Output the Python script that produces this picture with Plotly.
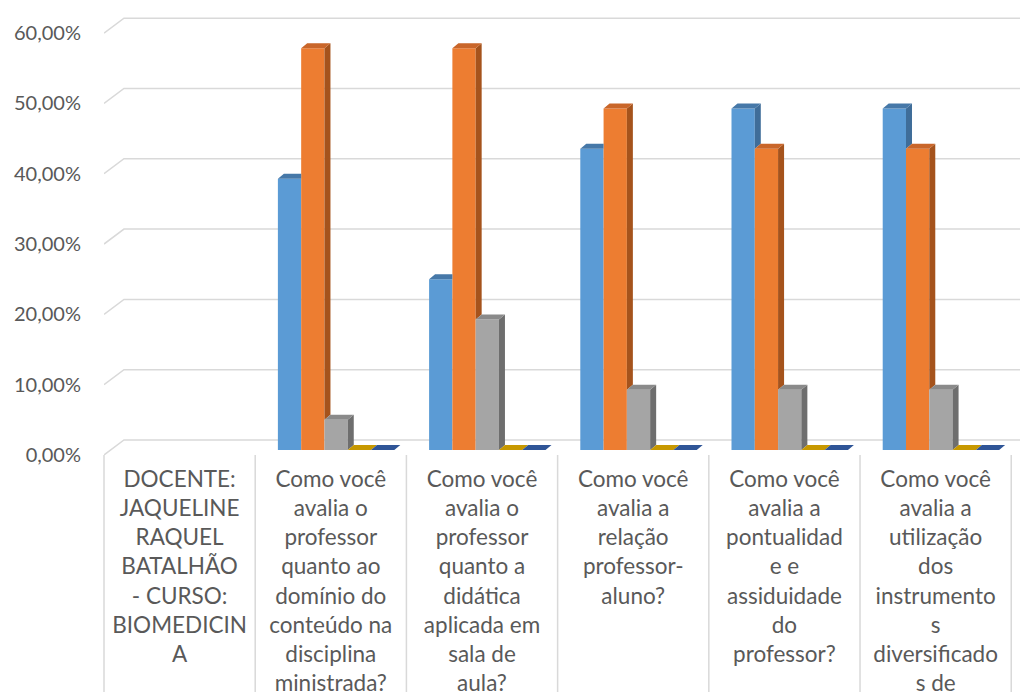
import plotly.graph_objects as go

# ---------------- data ----------------
categories = [
    "DOCENTE:<br>JAQUELINE<br>RAQUEL<br>BATALHÃO<br>- CURSO:<br>BIOMEDICIN<br>A",
    "Como você<br>avalia o<br>professor<br>quanto ao<br>domínio do<br>conteúdo na<br>disciplina<br>ministrada?",
    "Como você<br>avalia o<br>professor<br>quanto a<br>didática<br>aplicada em<br>sala de<br>aula?",
    "Como você<br>avalia a<br>relação<br>professor-<br>aluno?",
    "Como você<br>avalia a<br>pontualidad<br>e e<br>assiduidade<br>do<br>professor?",
    "Como você<br>avalia a<br>utilização<br>dos<br>instrumento<br>s<br>diversificado<br>s de",
]
series_names = ["Série 1", "Série 2", "Série 3", "Série 4", "Série 5"]
serie1 = [None, 38.57, 24.29, 42.86, 48.57, 48.57]
serie2 = [None, 57.14, 57.14, 48.57, 42.86, 42.86]
serie3 = [None, 4.29, 18.57, 8.57, 8.57, 8.57]
serie4 = [None, 0.0, 0.0, 0.0, 0.0, 0.0]
serie5 = [None, 0.0, 0.0, 0.0, 0.0, 0.0]
y_ticks = [0, 10, 20, 30, 40, 50, 60]
y_tick_labels = ["0,00%", "10,00%", "20,00%", "30,00%", "40,00%", "50,00%", "60,00%"]

series = [serie1, serie2, serie3, serie4, serie5]

# ---------------- styles ----------------
front_colors = ["#5B9BD5", "#ED7D31", "#A5A5A5", "#FFC000", "#4472C4"]
top_colors = ["#4678A8", "#C9662A", "#8A8A8A", "#C79800", "#2F5597"]
side_colors = ["#3F6D99", "#A5531C", "#6E6E6E", "#A67F00", "#263F75"]
text_color = "#595959"
grid_color = "#D9D9D9"
font_family = "Lato, 'Open Sans', sans-serif"

BAR_W = 0.154      # bar width in category units
GROUP_LEFT = -0.35 # left edge of first bar relative to category centre
DX = 0.0397        # depth offset (x, category units)
DY = 0.711         # depth offset (y, value units)
BACK_DX = 0.132    # back wall x offset
BACK_DY = 1.42     # back wall y offset (from bar plane)
FRONT_DY = -0.711  # front plane y offset (from bar plane)
X_MIN, X_MAX = -0.5, 5.558
Y_MIN, Y_MAX = -0.711, 64.0

xs = list(range(len(categories)))

fig = go.Figure()

# front faces (real bars)
for i, (name, vals) in enumerate(zip(series_names, series)):
    fig.add_trace(go.Bar(
        x=xs, y=vals, name=name, width=BAR_W, offset=GROUP_LEFT + i * BAR_W,
        marker=dict(color=front_colors[i], line=dict(width=0)),
        showlegend=False, hoverinfo="skip",
    ))

# 3D side and top faces (computed from the data, clipped for occlusion)
for i, vals in enumerate(series):
    sx, sy, tx, ty = [], [], [], []
    for j, v in enumerate(vals):
        if v is None:
            continue
        x0 = j + GROUP_LEFT + i * BAR_W
        x1 = x0 + BAR_W
        if i < len(series) - 1:
            vn = series[i + 1][j] or 0.0
        else:
            vn = 0.0
        if v > vn:
            sx += [x1, x1 + DX, x1 + DX, x1, x1, None]
            sy += [vn, vn + DY, v + DY, v, vn, None]
        if i < len(series) - 1 and vn >= v + DY:
            tx += [x0, x1, x1, x0 + DX, x0, None]
            ty += [v, v, v + DY, v + DY, v, None]
        else:
            tx += [x0, x1, x1 + DX, x0 + DX, x0, None]
            ty += [v, v, v + DY, v + DY, v, None]
    if sx:
        fig.add_trace(go.Scatter(x=sx, y=sy, mode="lines", fill="toself",
                                 fillcolor=side_colors[i], line=dict(width=0, color=side_colors[i]),
                                 showlegend=False, hoverinfo="skip"))
    fig.add_trace(go.Scatter(x=tx, y=ty, mode="lines", fill="toself",
                             fillcolor=top_colors[i], line=dict(width=0, color=top_colors[i]),
                             showlegend=False, hoverinfo="skip"))

# invisible trace for the front-plane value axis
fig.add_trace(go.Scatter(x=[None], y=[None], yaxis="y2", showlegend=False, hoverinfo="skip"))

shapes = []
for t in y_ticks:
    path = (f"M {X_MIN},{t + FRONT_DY} L {X_MIN + BACK_DX},{t + BACK_DY} "
            f"L {X_MAX},{t + BACK_DY}")
    shapes.append(dict(type="path", path=path, xref="x", yref="y", layer="below",
                       line=dict(color=grid_color, width=1.5)))
span = X_MAX - X_MIN
for k in range(len(categories) + 1):
    px = (k - 0.5 - X_MIN) / span
    shapes.append(dict(type="line", xref="paper", yref="paper", x0=px, x1=px,
                       y0=0, y1=-0.55, line=dict(color=grid_color, width=1.5)))

fig.update_layout(
    width=1020, height=692,
    margin=dict(l=104, r=0, t=0, b=237, pad=0),
    paper_bgcolor="white", plot_bgcolor="white",
    barmode="overlay",
    font=dict(family=font_family, color=text_color),
    shapes=shapes,
    xaxis=dict(range=[X_MIN, X_MAX], tickvals=xs, ticktext=categories,
               showgrid=False, zeroline=False, showline=False, ticks="",
               tickfont=dict(size=22.5, color=text_color, family=font_family),
               automargin=False, fixedrange=True, ticklabelstandoff=8),
    yaxis=dict(range=[Y_MIN, Y_MAX], visible=False, showgrid=False, zeroline=False,
               fixedrange=True),
    yaxis2=dict(range=[0, Y_MAX - Y_MIN], overlaying="y", side="left", anchor="x",
                tickvals=y_ticks, ticktext=y_tick_labels,
                showgrid=False, zeroline=False, showline=False, ticks="",
                tickfont=dict(size=20, color=text_color, family=font_family),
                automargin=False, fixedrange=True, ticklabelstandoff=22),
)

fig.write_html("out.html", config={"displayModeBar": False},
               post_script="document.body.style.margin='0';")
